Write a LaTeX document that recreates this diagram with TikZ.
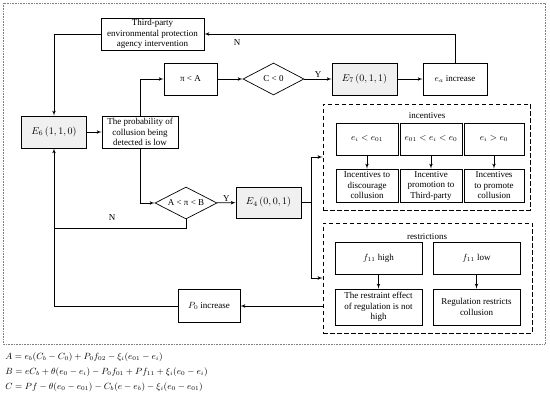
\documentclass[tikz,border=0pt]{standalone}
\usepackage{fontspec}
\setmainfont{Liberation Serif}
\usetikzlibrary{shapes,arrows}
\tikzstyle{block} = [rectangle, draw, text centered, align=center, inner sep=1pt, font=\fontsize{9}{10.5}\selectfont]
\tikzstyle{state} = [block, fill=gray!12, font=\fontsize{10}{12}\selectfont]
\tikzstyle{decision} = [diamond, draw, aspect=2, inner sep=0pt, font=\fontsize{9}{10.5}\selectfont]
\tikzstyle{group} = [rectangle, draw, dash pattern=on 4.5pt off 2.5pt, line width=0.8pt]
\tikzstyle{tag} = [inner sep=1pt, font=\fontsize{9}{10.5}\selectfont]
\tikzstyle{formula} = [inner sep=0pt, anchor=west, font=\fontsize{8.9}{10}\selectfont]
\tikzstyle{line} = [draw, -latex']

\begin{document}
\begin{tikzpicture}[x=1pt, y=-1pt, line width=0.7pt]
		\useasboundingbox (0,0) rectangle (550,411);
		\draw [densely dotted, gray, line width=0.6pt] (3,3) rectangle (545,344);

		\node [block, minimum width=103pt, minimum height=32pt] (third) at (152.5,34) {Third-party\\environmental protection\\agency intervention};
		\node [block, minimum width=53pt, minimum height=32pt] (pia) at (190.5,79) {π < A};
		\node [decision, minimum width=61pt, minimum height=32pt] (cond) at (273.5,79) {C < 0};
		\node [state, minimum width=65pt, minimum height=32pt] (e7) at (364.5,79) {$E_{7}\,(0,1,1)$};
		\node [block, minimum width=64pt, minimum height=32pt] (ea) at (455,79) {$e_a$ increase};
		\node [state, minimum width=65pt, minimum height=32pt] (e6) at (54,132) {$E_{6}\,(1,1,0)$};
		\node [block, minimum width=76pt, minimum height=32pt] (prob) at (140,132) {The probability of\\collusion being\\detected is low};
		\node [decision, minimum width=62pt, minimum height=32pt] (ab) at (186,203) {A < π < B};
		\node [state, minimum width=65pt, minimum height=31pt] (e4) at (268.5,202.5) {$E_{4}\,(0,0,1)$};
		\node [block, minimum width=62pt, minimum height=33pt] (p0) at (209,306) {$P_0$ increase};

		\node [group, minimum width=207pt, minimum height=106pt] (incg) at (426.5,157) {};
		\node [tag] (inctag) at (427,116) {incentives};
		\node [block, minimum width=62pt, minimum height=32pt] (i1) at (367,139) {$e_i < e_{01}$};
		\node [block, minimum width=62pt, minimum height=32pt] (i2) at (431,139) {$e_{01} < e_i < e_0$};
		\node [block, minimum width=60pt, minimum height=32pt] (i3) at (494,139) {$e_i > e_0$};
		\node [block, minimum width=62pt, minimum height=33pt] (j1) at (367,185.5) {Incentives to\\discourage\\collusion};
		\node [block, minimum width=62pt, minimum height=33pt] (j2) at (431,185.5) {Incentive\\promotion to\\Third-party};
		\node [block, minimum width=60pt, minimum height=33pt] (j3) at (494,185.5) {Incentives\\to promote\\collusion};

		\node [group, minimum width=209pt, minimum height=110pt] (resg) at (427.5,278) {};
		\node [tag] (restag) at (427,237) {restrictions};
		\node [block, minimum width=87pt, minimum height=32pt] (r1) at (378.5,258) {$f_{11}$ high};
		\node [block, minimum width=87pt, minimum height=32pt] (r2) at (476.5,258) {$f_{11}$ low};
		\node [block, minimum width=87pt, minimum height=36pt] (s1) at (378.5,307) {The restraint effect\\of regulation is not\\high};
		\node [block, minimum width=87pt, minimum height=36pt] (s2) at (476.5,307) {Regulation restricts\\collusion};

		\node [tag] (nup) at (237,43) {N};
		\node [tag] (ndown) at (112,218) {N};
		\coordinate (nturn) at (54,228);
		\coordinate (split) at (311,202.5);

		\path [line] (ea.north) |- (third.east);
		\path [line] (third.west) -| (e6.north);
		\path [line] (e6) -- (prob);
		\path [line] (prob.north) |- (pia.west);
		\path [line] (pia) -- (cond);
		\path [line] (cond) -- node [tag, above] {Y} (e7);
		\path [line] (e7) -- (ea);
		\path [line] (prob.south) |- (ab.west);
		\path [line] (ab) -- node [tag, above] {Y} (e4);
		\draw (ab.south) |- (nturn);
		\path [line] (p0.west) -| (e6.south);
		\draw (e4.east) -- (split);
		\path [line] (split) |- (incg.west);
		\path [line] (split) |- (resg.west);
		\path [line] (resg.west |- p0.east) -- (p0.east);
		\path [line] (i1) -- (j1);
		\path [line] (i2) -- (j2);
		\path [line] (i3) -- (j3);
		\path [line] (r1) -- (s1);
		\path [line] (r2) -- (s2);

		\node [formula] (fa) at (5,357) {$A = e_b(C_b - C_0) + P_0 f_{02} - \xi_i(e_{01} - e_i)$};
		\node [formula] (fb) at (5,372) {$B = eC_b + \theta(e_0 - e_i) - P_0 f_{01} + Pf_{11} + \xi_i(e_0 - e_i)$};
		\node [formula] (fc) at (5,387) {$C = Pf - \theta(e_0 - e_{01}) - C_b(e - e_b) - \xi_i(e_0 - e_{01})$};
	\end{tikzpicture}
\end{document}
